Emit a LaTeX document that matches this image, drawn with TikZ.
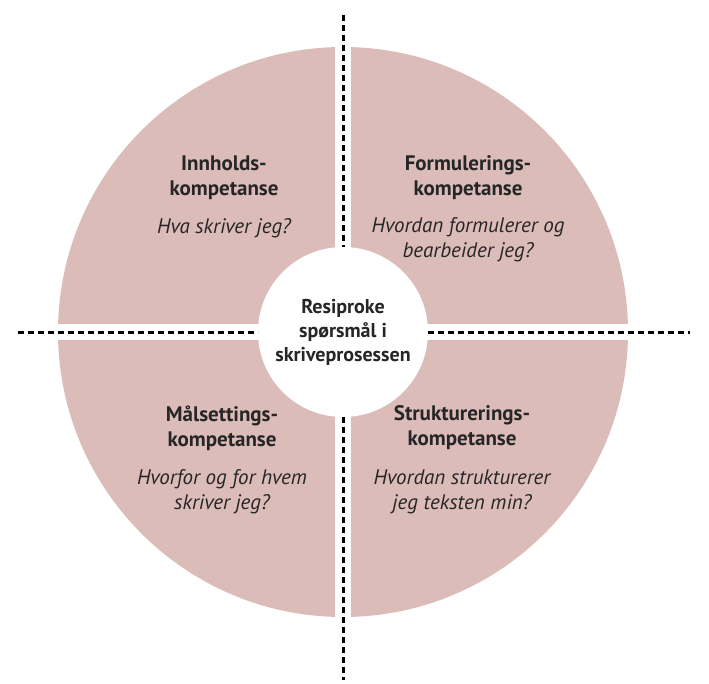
\documentclass[tikz,border=0pt]{standalone}
\usepackage{fontspec}
\setmainfont{PT Sans}
\begin{document}
\begin{tikzpicture}[x=1pt,y=-1pt,
  t/.style={font=\fontsize{21}{25}\selectfont\bfseries, align=center, text=black!85},
  q/.style={font=\fontsize{21}{25}\selectfont\itshape, align=center, text=black!85},
  dl/.style={line width=3pt, dash pattern=on 6pt off 4pt, black}]
\definecolor{pinkq}{HTML}{DCBCB8}
\useasboundingbox (0,0) rectangle (709,683);
\fill[pinkq] (343,332) circle (285);
\fill[white] (335,0) rectangle (351,683);
\fill[white] (0,324) rectangle (709,340);
\node[circle, fill=white, minimum size=170pt, inner sep=0] (c) at (343,332) {};
\coordinate (vt) at (343,15); \coordinate (vb) at (343,680);
\coordinate (hl) at (18,332); \coordinate (hr) at (690,332);
\draw[dl] (vt) -- (343,247);
\draw[dl] (343,417) -- (vb);
\draw[dl] (hl) -- (258,332);
\draw[dl] (428,332) -- (hr);
\node[t, font=\fontsize{20}{24}\selectfont\bfseries] at (c) {Resiproke\\spørsmål i\\skriveprosessen};
\node[t] (a1) at (224,178) {Innholds-\\kompetanse};
\node[q] (a2) at (224,228) {Hva skriver jeg?};
\node[t] (b1) at (468,178) {Formulerings-\\kompetanse};
\node[q] (b2) at (468,240) {Hvordan formulerer og\\bearbeider jeg?};
\node[t] (c1) at (222,428) {Målsettings-\\kompetanse};
\node[q] (c2) at (222,492) {Hvorfor og for hvem\\skriver jeg?};
\node[t] (d1) at (462,428) {Strukturerings-\\kompetanse};
\node[q] (d2) at (462,492) {Hvordan strukturerer\\jeg teksten min?};
\end{tikzpicture}
\end{document}
